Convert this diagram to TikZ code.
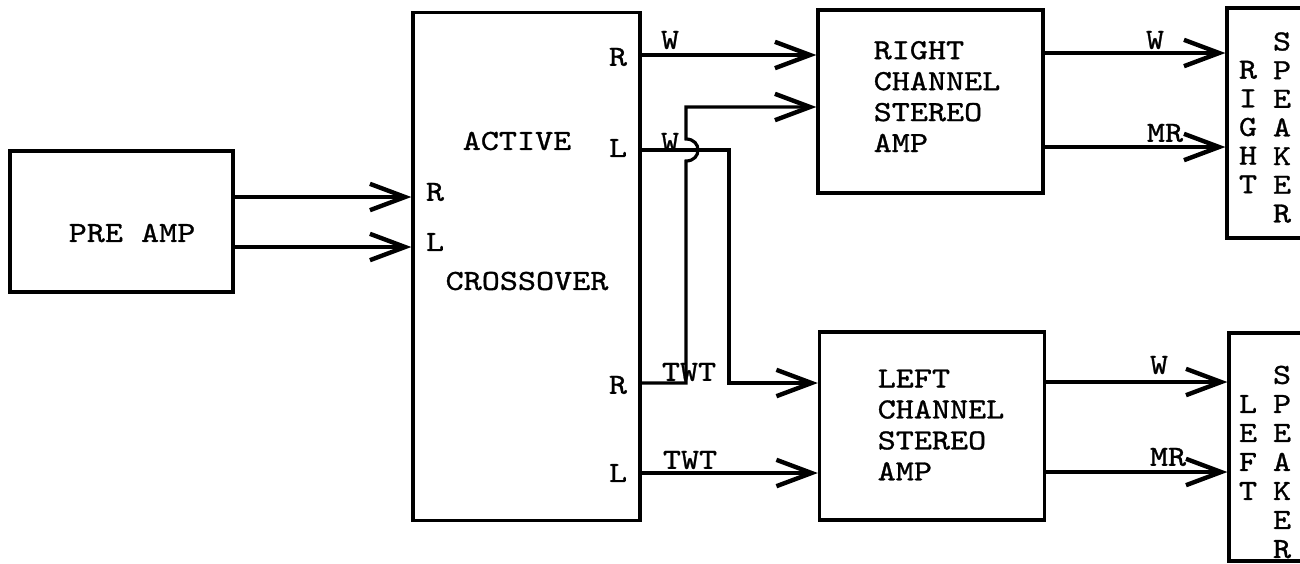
\documentclass[tikz,border=0pt]{standalone}
\usepackage{fontspec}
\newfontfamily\tw{lmmono10-regular}[Extension=.otf, FakeStretch=1.18, FakeBold=1]
\usetikzlibrary{arrows.meta, positioning}

\begin{document}
\begin{tikzpicture}[
    x=0.01cm, y=-0.01cm,
    box/.style={draw, line width=0.9pt, inner sep=0pt},
    txt/.style={inner sep=0pt, align=left, font=\tw\fontsize{8.3}{8.8}\selectfont},
    col/.style={inner sep=0pt, align=center, font=\tw\fontsize{8.3}{8.15}\selectfont},
    wire/.style={line width=0.9pt},
    sig/.style={wire, -{Straight Barb[length=10pt,width=7.5pt,line width=1.25pt]}}
  ]
    \useasboundingbox (0,0) rectangle (1300,563);
    % blocks
    \node[box, minimum width=2.23cm, minimum height=1.41cm] (pre) at (121.5,221.5) {};
    \node[box, minimum width=2.27cm, minimum height=5.07cm] (xover) at (526.5,266.5) {};
    \node[box, minimum width=2.25cm, minimum height=1.83cm] (ramp) at (930.5,101.5) {};
    \node[box, minimum width=2.25cm, minimum height=1.88cm] (lamp) at (932,426) {};
    \node[box, minimum width=0.83cm, minimum height=2.30cm] (rspk) at (1268.5,123) {};
    \node[box, minimum width=0.81cm, minimum height=2.28cm] (lspk) at (1269.5,447) {};
    % block texts
    \node[txt] (pretxt) at (132,233) {PRE AMP};
    \node[txt] (active) at (517,141) {ACTIVE};
    \node[txt] (cross) at (527,281) {CROSSOVER};
    \node[txt, anchor=west] (ramptxt) at (873,96.5) {RIGHT\\CHANNEL\\STEREO\\AMP};
    \node[txt, anchor=west] (lamptxt) at (877,425) {LEFT\\CHANNEL\\STEREO\\AMP};
    \node[col] (rspkA) at (1248,127) {R\\I\\G\\H\\T};
    \node[col] (rspkB) at (1282,127.5) {S\\P\\E\\A\\K\\E\\R};
    \node[col, font=\tw\fontsize{8.3}{8.25}\selectfont] (lspkA) at (1248,447.5) {L\\E\\F\\T};
    \node[col, font=\tw\fontsize{8.3}{8.25}\selectfont] (lspkB) at (1282,462) {S\\P\\E\\A\\K\\E\\R};
    % port labels
    \node[txt] (inR) at (435,192) {R};
    \node[txt] (inL) at (435,242) {L};
    \node[txt] (outRw) at (618,57) {R};
    \node[txt] (outLw) at (618,148) {L};
    \node[txt] (outRt) at (618,385) {R};
    \node[txt] (outLt) at (618,473) {L};
    \coordinate (oRw) at (xover.east |- 0,55);
    \coordinate (oLw) at (xover.east |- 0,150);
    \coordinate (oRt) at (xover.east |- 0,383);
    \coordinate (oLt) at (xover.east |- 0,473);
    % pre amp to crossover
    \draw[sig] (pre.east |- 0,197) -- (xover.west |- 0,197);
    \draw[sig] (pre.east |- 0,247) -- (xover.west |- 0,247);
    % crossover to amps
    \draw[sig] (oRw) -- (oRw -| ramp.west);
    \draw[sig] (oRt) -- (686,383) -- (686,161) .. controls (702,161) and (702,139) .. (686,139)
      -- (686,107) -- (ramp.west |- 0,107);
    \draw[sig] (oLw) -- (729,150) -- (729,383) -- (lamp.west |- 0,383);
    \draw[sig] (oLt) -- (oLt -| lamp.west);
    \node[txt] (wR) at (670,40) {W};
    \node[txt] (wL) at (670,142) {W};
    \node[txt] (tR) at (689,372) {TWT};
    \node[txt] (tL) at (690,460) {TWT};
    % amps to speakers
    \draw[sig] (ramp.east |- 0,53) -- (rspk.west |- 0,53);
    \draw[sig] (ramp.east |- 0,147) -- (rspk.west |- 0,147);
    \draw[sig] (lamp.east |- 0,382) -- (lspk.west |- 0,382);
    \draw[sig] (lamp.east |- 0,472) -- (lspk.west |- 0,472);
    \node[txt] (rW) at (1155,40) {W};
    \node[txt] (rMR) at (1165,133) {MR};
    \node[txt] (lW) at (1159,365) {W};
    \node[txt] (lMR) at (1168,457) {MR};
  \end{tikzpicture}
\end{document}
